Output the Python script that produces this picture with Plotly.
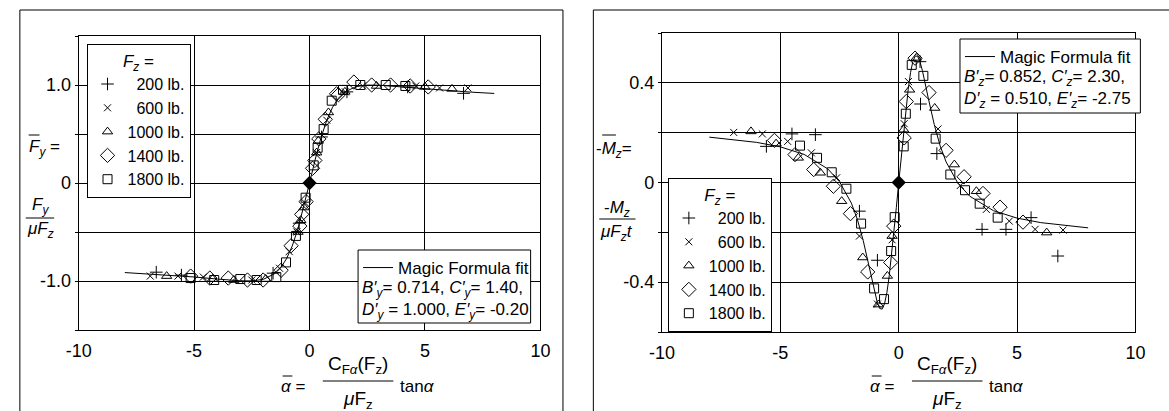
import plotly.graph_objects as go

# ---------------- data ----------------
fz_labels = ["\u2007200 lb.", "\u2007600 lb.", "1000 lb.", "1400 lb.", "1800 lb."]

# Left panel: normalised lateral force vs normalised slip
fy_200_x = [-6.64, -5.55, -1.58, -0.45, 0.52, 1.62, 4.25, 6.67]
fy_200_y = [-0.91, -0.94, -0.92, -0.41, 0.47, 0.93, 0.98, 0.915]
fy_600_x = [-6.9, -5.7, -4.6, -2.5, -1.3, -0.88, -0.55, -0.2, 0.3, 0.75, 1.55, 2.3, 4.6, 5.63, 6.86]
fy_600_y = [-0.95, -0.95, -0.96, -0.99, -0.87, -0.70, -0.50, -0.2, 0.31, 0.64, 0.93, 0.99, 0.99, 0.97, 0.97]
fy_1000_x = [-6.19, -4.2, -3.28, -1.9, -0.5, -0.38, -0.24, 0.31, 0.38, 0.82, 1.53, 2.9, 5.0, 6.17]
fy_1000_y = [-0.95, -0.98, -0.99, -0.98, -0.5, -0.38, -0.25, 0.31, 0.43, 0.72, 0.93, 0.99, 0.98, 0.96]
fy_1400_x = [-5.15, -4.32, -3.52, -2.69, -2.01, -1.23, -0.8, -0.42, -0.34, -0.15, 0.13, 0.23, 0.4,
             0.68, 1.17, 1.25, 1.92, 2.69, 3.51, 4.36, 5.14]
fy_1400_y = [-0.95, -0.97, -0.97, -0.99, -0.99, -0.89, -0.64, -0.44, -0.32, -0.19, 0.15, 0.23, 0.45,
             0.65, 0.91, 0.9, 1.03, 1.0, 1.0, 0.99, 0.98]
fy_1800_x = [-5.15, -4.13, -3.0, -2.29, -1.44, -1.02, -0.59, -0.17, 0.18, 0.35, 0.61, 0.96, 1.45, 2.2, 3.3, 4.15]
fy_1800_y = [-0.97, -0.99, -0.98, -0.99, -0.96, -0.81, -0.54, -0.15, 0.18, 0.36, 0.55, 0.84, 0.95, 1.0, 1.0, 0.99]

# Magic Formula fit curve
fy_fit_x = [-8, -7, -6, -5, -4, -3, -2.5, -2, -1.5, -1.25, -1, -0.75, -0.5, -0.25, 0,
            0.25, 0.5, 0.75, 1, 1.25, 1.5, 2, 2.5, 3, 4, 5, 6, 7, 8]
fy_fit_y = [-0.914, -0.927, -0.941, -0.959, -0.980, -0.998, -0.999, -0.983, -0.924, -0.865, -0.774,
            -0.643, -0.465, -0.245, 0, 0.245, 0.465, 0.643, 0.774, 0.865, 0.924, 0.983, 0.999, 0.998,
            0.980, 0.959, 0.941, 0.927, 0.914]

# Right panel: normalised aligning moment vs normalised slip
mz_200_x = [-5.59, -4.51, -3.52, -1.66, -0.9, 0.9, 0.92, 1.61, 3.52, 4.53, 5.59, 6.72]
mz_200_y = [0.145, 0.195, 0.192, -0.115, -0.312, 0.485, 0.315, 0.116, -0.188, -0.188, -0.141, -0.295]
mz_600_x = [-6.97, -5.76, -4.69, -3.69, -2.62, -1.66, -0.9, -0.28, 0.23, 0.41, 1.66, 2.6, 3.7, 4.67, 5.76, 6.94]
mz_600_y = [0.201, 0.195, 0.165, 0.119, 0.019, -0.215, -0.488, -0.23, 0.236, 0.405, 0.215, -0.012,
            -0.108, -0.155, -0.188, -0.191]
mz_1000_x = [-6.24, -5.18, -4.24, -3.31, -2.41, -1.52, -0.86, -0.48, -0.28, 0.21, 0.46, 0.74, 1.52, 2.35, 3.28, 6.25]
mz_1000_y = [0.205, 0.156, 0.099, 0.039, -0.075, -0.301, -0.49, -0.375, -0.215, 0.212, 0.372, 0.5,
             0.299, 0.072, -0.035, -0.201]
mz_1400_x = [-5.25, -4.38, -3.59, -2.76, -2.04, -1.31, -0.34, -0.21, 0.23, 0.32, 0.69, 1.28, 2.0,
             2.76, 3.56, 4.28, 5.25]
mz_1400_y = [0.169, 0.112, 0.052, -0.015, -0.125, -0.359, -0.321, -0.175, 0.179, 0.325, 0.499, 0.361,
             0.129, 0.023, -0.044, -0.099, -0.159]
mz_1800_x = [-4.17, -3.45, -2.83, -2.21, -1.59, -1.04, -0.62, -0.32, -0.17, 0.21, 0.3, 0.55, 1.04,
             1.56, 2.18, 2.8, 3.42, 4.18]
mz_1800_y = [0.148, 0.099, 0.041, -0.025, -0.165, -0.425, -0.468, -0.275, -0.139, 0.145, 0.276, 0.472,
             0.428, 0.176, 0.032, -0.031, -0.085, -0.141]

mz_fit_x = [-8, -7, -6, -5, -4, -3, -2.5, -2, -1.75, -1.5, -1.25, -1, -0.9, -0.8, -0.7, -0.6, -0.5,
            -0.4, -0.3, -0.2, -0.1, 0, 0.1, 0.2, 0.3, 0.4, 0.5, 0.6, 0.7, 0.8, 0.9, 1, 1.25, 1.5,
            1.75, 2, 2.5, 3, 4, 5, 6, 7, 8]
mz_fit_y = [0.182, 0.173, 0.161, 0.143, 0.113, 0.055, 0.003, -0.083, -0.147, -0.233, -0.338, -0.449,
            -0.484, -0.506, -0.508, -0.487, -0.442, -0.374, -0.291, -0.198, -0.100, 0, 0.100, 0.198,
            0.291, 0.374, 0.442, 0.487, 0.508, 0.506, 0.484, 0.449, 0.338, 0.233, 0.147, 0.083,
            -0.003, -0.055, -0.113, -0.143, -0.161, -0.173, -0.182]

origin_x = [0]
origin_y = [0]

fy_ticks = [-1.5, -1.0, -0.5, 0, 0.5, 1.0, 1.5]
fy_ticktext = ["", "-1.0", "", "0", "", "1.0", ""]
mz_ticks = [-0.6, -0.4, -0.2, 0, 0.2, 0.4, 0.6]
mz_ticktext = ["", "-0.4", "", "0", "", "0.4", ""]
x_ticks = [-10, -5, 0, 5, 10]
x_ticktext = ["-10", "-5", "0", "5", "10"]

# ---------------- styling ----------------
W, H = 1169, 411
FONT = "Liberation Sans, Arial, sans-serif"


def px(x):
    return x / W


def py(y):
    return 1 - y / H


symbols = ["cross-thin", "x-thin", "triangle-up-open", "diamond-open", "square-open"]
sizes = [9, 7, 9, 11, 9]

fig = go.Figure()

left_sets = [(fy_200_x, fy_200_y), (fy_600_x, fy_600_y), (fy_1000_x, fy_1000_y),
             (fy_1400_x, fy_1400_y), (fy_1800_x, fy_1800_y)]
right_sets = [(mz_200_x, mz_200_y), (mz_600_x, mz_600_y), (mz_1000_x, mz_1000_y),
              (mz_1400_x, mz_1400_y), (mz_1800_x, mz_1800_y)]

# fit lines first (drawn below markers)
fig.add_trace(go.Scatter(x=fy_fit_x, y=fy_fit_y, mode="lines", name="Magic Formula fit",
                         line=dict(color="black", width=1), xaxis="x", yaxis="y",
                         legend="legend3"))
fig.add_trace(go.Scatter(x=mz_fit_x, y=mz_fit_y, mode="lines", name="Magic Formula fit",
                         line=dict(color="black", width=1), xaxis="x2", yaxis="y2",
                         legend="legend4"))

for i, (xs, ys) in enumerate(left_sets):
    fig.add_trace(go.Scatter(x=xs, y=ys, mode="markers", name=fz_labels[i], xaxis="x", yaxis="y",
                             legend="legend",
                             marker=dict(symbol=symbols[i], size=sizes[i], color="black",
                                         line=dict(color="black", width=1))))
for i, (xs, ys) in enumerate(right_sets):
    fig.add_trace(go.Scatter(x=xs, y=ys, mode="markers", name=fz_labels[i], xaxis="x2", yaxis="y2",
                             legend="legend2",
                             marker=dict(symbol=symbols[i], size=sizes[i], color="black",
                                         line=dict(color="black", width=1))))

for xa, ya in (("x", "y"), ("x2", "y2")):
    fig.add_trace(go.Scatter(x=origin_x, y=origin_y, mode="markers", showlegend=False,
                             xaxis=xa, yaxis=ya,
                             marker=dict(symbol="diamond", size=11, color="black")))

axis_common = dict(showline=True, mirror=True, linecolor="black", linewidth=1,
                   showgrid=True, gridcolor="black", gridwidth=1, zeroline=False,
                   tickfont=dict(family=FONT, size=18, color="black"), tickmode="array")

legend_common = dict(xanchor="left", yanchor="top", bgcolor="white",
                     bordercolor="black", borderwidth=1, font=dict(family=FONT, size=16),
                     title=dict(text="<i>F<sub>z</sub></i> =", side="top center",
                                font=dict(family=FONT, size=17)),
                     tracegroupgap=0, itemwidth=30)

fig.update_layout(
    width=W, height=H, margin=dict(l=0, r=0, t=0, b=0),
    paper_bgcolor="white", plot_bgcolor="white",
    font=dict(family=FONT, size=17, color="black"),
    xaxis=dict(domain=[px(67), px(538)], range=[-10, 10], anchor="y",
               tickvals=x_ticks, ticktext=x_ticktext, ticks="", ticklabelstandoff=4, **axis_common),
    yaxis=dict(domain=[py(330), py(36)], range=[-1.5, 1.5], anchor="x",
               tickvals=fy_ticks, ticktext=fy_ticktext, ticks="outside", ticklen=3,
               tickcolor="black", **axis_common),
    xaxis2=dict(domain=[px(662), px(1145)], range=[-10, 10], anchor="y2",
                tickvals=x_ticks, ticktext=x_ticktext, ticks="", ticklabelstandoff=4, **axis_common),
    yaxis2=dict(domain=[py(332), py(33)], range=[-0.6, 0.6], anchor="x2",
                tickvals=mz_ticks, ticktext=mz_ticktext, ticks="outside", ticklen=3,
                tickcolor="black", **axis_common),
    legend=dict(x=px(75), y=py(44), **legend_common),
    legend2=dict(x=px(668), y=py(178), **legend_common),
    legend3=dict(x=px(352), y=py(250), xanchor="left", yanchor="top", bgcolor="rgba(0,0,0,0)",
                 borderwidth=0, font=dict(family=FONT, size=17), itemwidth=30),
    legend4=dict(x=px(966), y=py(39), xanchor="left", yanchor="top", bgcolor="rgba(0,0,0,0)",
                 borderwidth=0, font=dict(family=FONT, size=17), itemwidth=30),
)

shapes = []
# outer panel frames
shapes.append(dict(type="rect", xref="paper", yref="paper", x0=px(7), x1=px(561), y0=py(430), y1=py(10),
                   line=dict(color="black", width=1), layer="below"))
shapes.append(dict(type="rect", xref="paper", yref="paper", x0=px(592), x1=px(1190), y0=py(430), y1=py(10),
                   line=dict(color="black", width=1), layer="below"))
# fit parameter boxes
shapes.append(dict(type="rect", xref="paper", yref="paper", x0=px(352), x1=px(528), y0=py(323), y1=py(250),
                   line=dict(color="black", width=1), fillcolor="white", layer="above"))
shapes.append(dict(type="rect", xref="paper", yref="paper", x0=px(966), x1=px(1150), y0=py(113), y1=py(39),
                   line=dict(color="black", width=1), fillcolor="white", layer="above"))


def hline(x0, x1, y, w=1):
    shapes.append(dict(type="line", xref="paper", yref="paper", x0=px(x0), x1=px(x1), y0=py(y), y1=py(y),
                       line=dict(color="black", width=w)))


annotations = []


def text(x, y, s, size=17, xanchor="center", yanchor="middle", align="center"):
    annotations.append(dict(xref="paper", yref="paper", x=px(x), y=py(y), text=s, showarrow=False,
                            xanchor=xanchor, yanchor=yanchor, align=align,
                            font=dict(family=FONT, size=size, color="black")))


# ----- left y label -----
text(14, 148, "<i>F<sub>y</sub></i> =", xanchor="left")
hline(16, 27, 135)
text(28, 206, "<i>F<sub>y</sub></i>")
hline(13, 42, 218)
text(28, 230, "<i>μF<sub>z</sub></i>")

# ----- right y label -----
text(593, 150, "-<i>M<sub>z</sub></i>=", xanchor="left")
hline(601, 615, 135)
text(616, 209, "-<i>M<sub>z</sub></i>")
hline(598, 635, 219)
text(616, 233, "<i>μF<sub>z</sub>t</i>")

# ----- x labels -----
for X0 in (304, 905):
    text(X0 - 4, 386, "<i>α</i> =", xanchor="right")
    hline(X0 - 29, X0 - 19, 376)
    text(X0 + 48, 365, "C<sub>F<i>α</i></sub>(F<sub>z</sub>)", size=19)
    hline(X0 + 12, X0 + 84, 381)
    text(X0 + 48, 400, "<i>μ</i>F<sub>z</sub>", size=19)
    text(X0 + 89, 386, "tan<i>α</i>", xanchor="left")

# ----- fit parameters -----
text(354, 276, "<i>B′<sub>y</sub></i>= 0.714, <i>C′<sub>y</sub></i>= 1.40,<br>"
               "<i>D′<sub>y</sub></i> = 1.000, <i>E′<sub>y</sub></i>= -0.20",
     xanchor="left", yanchor="top", align="left")
text(968, 65, "<i>B′<sub>z</sub></i>= 0.852, <i>C′<sub>z</sub></i>= 2.30,<br>"
              "<i>D′<sub>z</sub></i> = 0.510, <i>E′<sub>z</sub></i>= -2.75",
     xanchor="left", yanchor="top", align="left")

fig.update_layout(shapes=shapes, annotations=annotations)

fig.write_html("out.html", config={"displayModeBar": False},
               post_script="document.body.style.margin='0';document.body.style.overflow='hidden';")
